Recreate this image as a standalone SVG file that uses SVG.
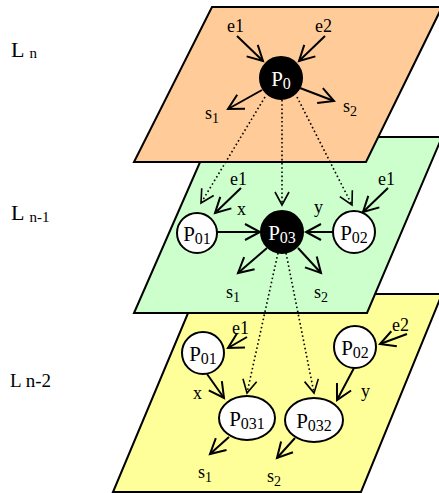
<svg xmlns="http://www.w3.org/2000/svg" width="439" height="493" viewBox="0 0 439 493">
<style>
.plane{stroke:#000;stroke-width:2;stroke-linejoin:miter}
.arr{fill:none;stroke:#000;stroke-width:2;marker-end:url(#ah)}
.dot{fill:none;stroke:#000;stroke-width:1.6;stroke-dasharray:1.6,2.6;marker-end:url(#ahd)}
.nd{stroke:#000;stroke-width:2}
.blk{fill:#000}
.wht{fill:#fff}
text{font-family:"Liberation Serif","Times New Roman",serif;fill:#000}
.lbl{font-size:18px}
.pl{font-size:21px;text-anchor:middle}
.pw{fill:#fff}
.sub{font-size:14px}
.psub{font-size:16px}
.lay{font-size:22px}
</style>
<defs>
<marker id="ah" markerUnits="userSpaceOnUse" markerWidth="24" markerHeight="24" refX="0" refY="0" viewBox="-20 -12 24 24" orient="auto">
<path d="M-15,-8 L0,0 L-15,8" fill="none" stroke="#000" stroke-width="2"/>
</marker>
<marker id="ahd" markerUnits="userSpaceOnUse" markerWidth="24" markerHeight="24" refX="0" refY="0" viewBox="-20 -12 24 24" orient="auto">
<path d="M-13,-7 L0,0 L-13,7" fill="none" stroke="#000" stroke-width="1.6" stroke-dasharray="none"/>
</marker>
</defs>

<g id="planes">
<polygon id="plane-n2" class="plane" fill="#FFFF99" points="196,294 442,294 361,492 113,492"/>
<polygon id="plane-n1" class="plane" fill="#CCFFCC" points="211,137 442,137 367,313 134,313"/>
<polygon id="plane-n" class="plane" fill="#FFCC99" points="212,7 442,7 366,162 134,162"/>
</g>

<g id="layer-labels">
<text class="lay" x="11" y="57">L<tspan font-size="15" dx="5" dy="1">n</tspan></text>
<text class="lay" x="11" y="220">L<tspan font-size="15" dx="5" dy="2">n-1</tspan></text>
<text x="10" y="387" font-size="19">L n-2</text>
</g>

<g id="connectors">
<line class="arr" x1="237" y1="36" x2="263" y2="61"/>
<line class="arr" x1="325" y1="36" x2="299" y2="61"/>
<line class="arr" x1="262" y1="90" x2="228" y2="109"/>
<line class="arr" x1="300" y1="88" x2="334" y2="101"/>
<line class="dot" x1="265" y1="97" x2="201" y2="203"/>
<line class="dot" x1="282" y1="100" x2="282" y2="205"/>
<line class="dot" x1="297" y1="97" x2="352" y2="205"/>

<line class="arr" x1="241" y1="188" x2="215" y2="213"/>
<line class="arr" x1="388" y1="188" x2="363" y2="212"/>
<line class="arr" x1="217" y1="232" x2="260" y2="232"/>
<line class="arr" x1="333" y1="232" x2="306" y2="232"/>
<line class="arr" x1="267" y1="248" x2="238" y2="273"/>
<line class="arr" x1="298" y1="248" x2="321" y2="273"/>
<line class="dot" x1="278" y1="253" x2="247" y2="393"/>
<line class="dot" x1="286" y1="253" x2="314" y2="393"/>

<line class="arr" x1="247" y1="337" x2="228" y2="348"/>
<line class="arr" x1="407" y1="334" x2="380" y2="344"/>
<line class="arr" x1="207" y1="374" x2="224" y2="398"/>
<line class="arr" x1="354" y1="368" x2="337" y2="400"/>
<line class="arr" x1="229" y1="437" x2="210" y2="454"/>
<line class="arr" x1="295" y1="438" x2="277" y2="458"/>
</g>

<g id="labels">
<text class="lbl" x="227" y="32">e1</text>
<text class="lbl" x="315" y="32">e2</text>
<text class="lbl" x="205" y="119">s<tspan class="sub" dy="4">1</tspan></text>
<text class="lbl" x="343" y="112">s<tspan class="sub" dy="4">2</tspan></text>

<text class="lbl" x="230" y="185">e1</text>
<text class="lbl" x="378" y="185">e1</text>
<text class="lbl" x="237" y="215">x</text>
<text class="lbl" x="314" y="213">y</text>
<text class="lbl" x="226" y="298">s<tspan class="sub" dy="4">1</tspan></text>
<text class="lbl" x="314" y="298">s<tspan class="sub" dy="4">2</tspan></text>

<text class="lbl" x="232" y="334">e1</text>
<text class="lbl" x="392" y="331">e2</text>
<text class="lbl" x="193" y="399">x</text>
<text class="lbl" x="361" y="397">y</text>
<text class="lbl" x="198" y="478">s<tspan class="sub" dy="4">1</tspan></text>
<text class="lbl" x="267" y="482">s<tspan class="sub" dy="4">2</tspan></text>
</g>

<g id="P0">
<circle class="nd blk" cx="281" cy="78" r="21"/>
<text class="pl pw" x="281" y="86">P<tspan class="psub pw" dy="3">0</tspan></text>
</g>
<g id="P01-n1">
<circle class="nd wht" cx="197" cy="233" r="20"/>
<text class="pl" x="197" y="241">P<tspan class="psub" dy="3">01</tspan></text>
</g>
<g id="P03">
<circle class="nd blk" cx="282" cy="232" r="21"/>
<text class="pl pw" x="282" y="240">P<tspan class="psub pw" dy="3">03</tspan></text>
</g>
<g id="P02-n1">
<circle class="nd wht" cx="354" cy="232" r="21"/>
<text class="pl" x="354" y="240">P<tspan class="psub" dy="3">02</tspan></text>
</g>
<g id="P01-n2">
<circle class="nd wht" cx="203" cy="353" r="21"/>
<text class="pl" x="203" y="361">P<tspan class="psub" dy="3">01</tspan></text>
</g>
<g id="P02-n2">
<circle class="nd wht" cx="355" cy="347" r="21"/>
<text class="pl" x="355" y="355">P<tspan class="psub" dy="3">02</tspan></text>
</g>
<g id="P031">
<ellipse class="nd wht" cx="247" cy="418" rx="28" ry="22"/>
<text class="pl" x="247" y="426">P<tspan class="psub" dy="3">031</tspan></text>
</g>
<g id="P032">
<ellipse class="nd wht" cx="314" cy="420" rx="29" ry="22"/>
<text class="pl" x="314" y="428">P<tspan class="psub" dy="3">032</tspan></text>
</g>
</svg>
